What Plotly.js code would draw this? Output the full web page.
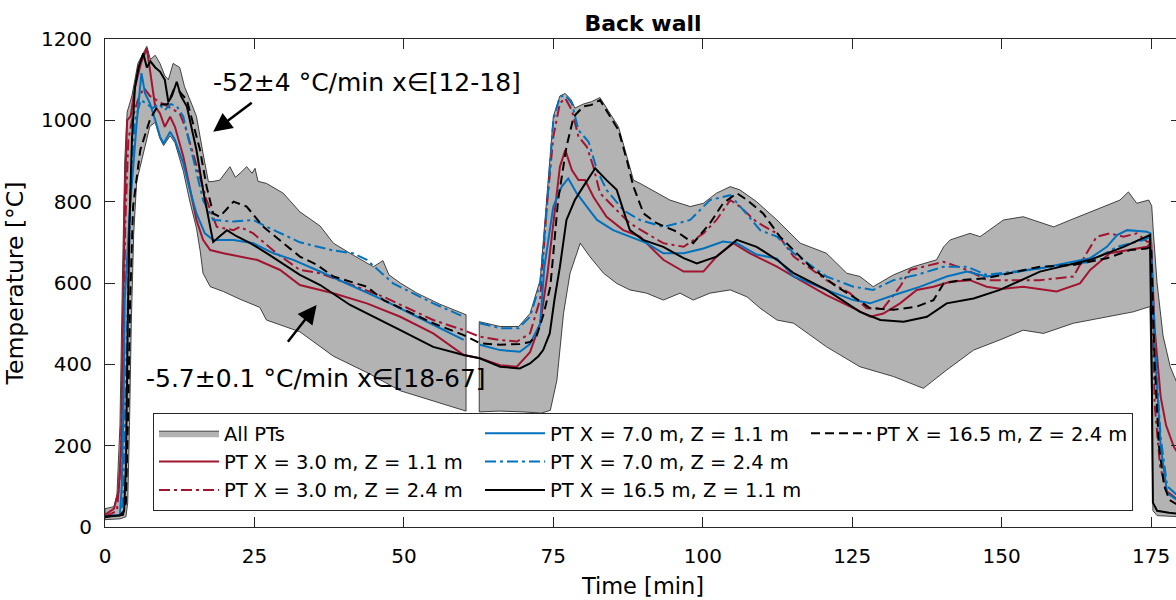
<!DOCTYPE html>
<html>
<head>
<meta charset="utf-8">
<script src="https://cdn.plot.ly/plotly-3.0.1.min.js"></script>
<style>
html,body{margin:0;padding:0;overflow:hidden;background:#fff;}
#chart{width:1185px;height:600px;}
</style>
</head>
<body>
<div id="chart"></div>
<script>
// ---- All PTs envelope (max / min of all plate thermometers) ----
const bandUpperT = [0, 1.5, 2.0, 2.5, 2.9, 3.3, 3.7, 4.5, 5.5, 6.5, 7.0, 7.6, 8.4, 9.2, 10.0, 10.6, 11.4, 12.5, 13.3, 14.5, 15.3, 16.4, 17.3, 18.2, 19.2, 20.9, 21.8, 22.6, 23.7, 24.6, 25.1, 25.6, 27.0, 29.8, 32.6, 36.0, 38.2, 41.0, 44.9, 46.5, 47.5, 49.4, 52.2, 56.0, 60.4, 61.5, 62.6, 66.1, 69.2, 71.1, 72.8, 73.9, 75.0, 76.1, 77.0, 78.0, 78.6, 80.0, 81.4, 82.8, 84.5, 85.9, 87.3, 88.4, 89.5, 92.3, 94.5, 97.9, 100.1, 102.3, 104.6, 106.2, 109.0, 112.4, 116.3, 120.7, 124.1, 126.3, 128.5, 131.9, 135.2, 139.1, 140.3, 141.4, 144.7, 146.4, 150.3, 153.6, 158.7, 161.5, 167.0, 169.8, 171.2, 172.6, 174.6, 175.1, 175.4, 176.0, 177.0, 178.2, 180];
const bandUpperY = [45, 50, 80, 250, 600, 900, 1020, 1060, 1140, 1170, 1182, 1150, 1160, 1140, 1110, 1100, 1140, 1130, 1083, 1040, 1010, 919, 849, 850, 853, 886, 860, 870, 886, 870, 882, 850, 845, 821, 775, 740, 698, 673, 640, 655, 620, 600, 575, 548, 522, null, 505, 493, 493, 525, 607, 800, 1010, 1060, 1066, 1050, 1030, 1040, 1046, 1056, 1017, 984, 911, 853, 845, 821, 804, 788, 796, 821, 837, 829, 800, 755, 698, 673, 624, 616, 591, 620, 640, 657, 689, 706, 722, 714, 755, 763, 738, 755, 788, 804, 824, 796, 804, 790, 720, 600, 470, 394, 330];
const bandLowerT = [0, 2.5, 3.5, 3.8, 4.1, 4.4, 4.8, 5.3, 6.5, 7.5, 8.4, 9.2, 9.8, 10.9, 11.7, 13.1, 14.2, 15.3, 15.9, 16.4, 17.6, 19.8, 22.6, 25.9, 27.0, 32.6, 38.2, 43.8, 49.4, 55.0, 60.4, 61.5, 62.6, 66.0, 70.0, 73.0, 74.5, 75.6, 76.7, 77.8, 79.5, 81.1, 83.4, 85.6, 87.8, 90.6, 93.4, 96.2, 98.4, 101.2, 104.6, 107.4, 109.6, 112.4, 115.2, 120.7, 126.3, 131.9, 136.9, 140.8, 145.3, 149.7, 153.6, 157.0, 162.0, 167.6, 172.0, 174.8, 175.1, 175.3, 176.0, 180];
const bandLowerY = [18, 20, 25, 60, 250, 500, 720, 850, 920, 985, 995, 955, 938, 962, 945, 875, 800, 735, 681, 624, 591, 579, 560, 540, 509, 480, 420, 380, 335, 310, 285, null, 283, 285, 283, 280, 287, 361, 525, 624, 698, 665, 624, 599, 583, 575, 558, 575, 558, 575, 583, 566, 538, 509, 501, 443, 394, 370, 341, 386, 435, 460, 484, 476, 501, 517, 529, 542, 300, 40, 28, 25];

// ---- PT X = 3.0 m, Z = 1.1 m ----
const r1T = [0, 1.5, 2.3, 2.7, 3.0, 3.3, 3.7, 4.3, 5.0, 6.0, 7.0, 7.5, 8.4, 9.2, 10.0, 10.9, 11.7, 13.1, 14.2, 15.3, 16.4, 17.6, 19.8, 22.6, 25.4, 29.3, 32.6, 38.2, 43.8, 49.4, 54.9, 60.0, 62.7, 66.1, 68.9, 71.1, 72.8, 74.0, 75.0, 76.1, 77.0, 78.1, 79.2, 80.3, 81.7, 83.9, 86.7, 89.5, 93.4, 96.8, 100.1, 102.3, 105.1, 107.9, 110.1, 112.4, 115.2, 120.7, 125.2, 128.0, 130.2, 133.0, 135.8, 138.6, 141.4, 144.7, 147.5, 150.0, 153.6, 159.2, 163.1, 164.8, 168.1, 171.5, 174.3, 175.0, 175.6, 176.6, 177.5, 178.8, 180];
const r1Y = [30, 45, 90, 200, 500, 800, 1000, 1010, 1080, 1140, 1177, 1130, 1034, 1017, 984, 1009, 984, 911, 837, 755, 706, 681, 673, 665, 657, 632, 595, 575, 550, 517, 476, 423, 415, 398, 394, 430, 500, 620, 747, 886, 927, 878, 853, 853, 812, 763, 730, 714, 657, 628, 628, 665, 698, 673, 657, 640, 616, 570, 538, 517, 525, 550, 583, 591, 603, 607, 591, 585, 591, 579, 599, 632, 673, 681, 689, 700, 484, 320, 250, 197, 170];

// ---- PT X = 3.0 m, Z = 2.4 m ----
const r2T = [0, 2.0, 2.6, 3.0, 3.4, 3.9, 4.5, 5.5, 6.5, 7.5, 8.6, 9.8, 10.9, 12.5, 13.5, 15.3, 17.0, 18.7, 21.5, 22.6, 24.8, 28.7, 32.6, 36.0, 38.2, 46.6, 54.9, 60.0, 62.7, 66.1, 68.9, 71.1, 72.8, 73.9, 75.0, 76.1, 77.0, 78.1, 79.2, 80.6, 81.7, 82.8, 85.0, 87.8, 90.6, 93.4, 96.8, 100.1, 102.3, 104.6, 106.2, 109.0, 112.4, 115.2, 120.7, 124.6, 127.4, 130.2, 133.0, 134.7, 136.9, 140.3, 144.2, 147.5, 156.4, 162.0, 164.2, 165.9, 168.1, 170.4, 172.6, 174.3, 175.0, 175.6, 176.5, 177.5, 180];
const r2Y = [25, 40, 150, 400, 750, 950, 1000, 1050, 1080, 1060, 1050, 1040, 1030, 1017, 980, 886, 804, 738, 730, 738, 722, 673, 632, 624, 612, 566, 509, 484, 468, 460, 456, 476, 560, 788, 960, 1042, 1054, 1025, 960, 935, 886, 821, 788, 747, 722, 698, 689, 722, 755, 804, 788, 750, 722, 665, 607, 575, 538, 538, 591, 632, 640, 652, 632, 607, 607, 616, 673, 714, 722, 714, 722, 702, 700, 300, 150, 90, 60];

// ---- PT X = 7.0 m, Z = 1.1 m ----
const b1T = [0, 2.5, 2.8, 3.1, 3.3, 3.8, 4.2, 5.3, 6.1, 6.7, 7.5, 8.4, 9.2, 9.8, 10.9, 11.7, 13.1, 14.2, 15.3, 16.7, 18.1, 21.5, 24.8, 28.2, 31.5, 35.4, 41.0, 46.6, 52.2, 60.0, 61.5, 62.7, 66.1, 69.4, 71.1, 72.8, 73.5, 75.0, 76.4, 77.5, 78.9, 80.6, 82.3, 85.0, 87.8, 90.6, 93.4, 96.8, 100.1, 103.4, 105.7, 109.0, 112.4, 115.2, 120.7, 125.2, 128.0, 131.9, 136.4, 140.8, 144.2, 147.5, 156.4, 164.8, 167.6, 169.3, 171.0, 174.3, 174.9, 175.6, 176.6, 177.7, 180];
const b1Y = [25, 30, 100, 300, 558, 700, 788, 993, 1116, 1066, 1042, 1001, 960, 943, 972, 952, 894, 829, 771, 722, 706, 706, 698, 673, 657, 632, 595, 558, 517, 460, null, 448, 435, 431, 450, 500, 640, 788, 837, 857, 821, 788, 755, 730, 714, 698, 673, 673, 685, 702, 698, 670, 660, 616, 583, 558, 550, 570, 591, 616, 628, 616, 636, 661, 689, 718, 730, 726, 722, 443, 197, 83, 60];

// ---- PT X = 7.0 m, Z = 2.4 m ----
const b2T = [0, 2.5, 3.0, 3.4, 3.8, 4.3, 5.0, 6.0, 7.0, 8.0, 9.0, 10.0, 11.0, 12.0, 13.1, 14.8, 16.4, 18.1, 21.5, 24.8, 27.1, 32.6, 38.2, 41.5, 43.8, 48.2, 54.9, 60.0, 61.5, 62.7, 66.1, 69.2, 71.1, 72.8, 73.9, 75.0, 76.1, 77.0, 78.1, 79.2, 80.9, 82.3, 83.9, 86.7, 89.5, 93.4, 97.9, 101.2, 104.6, 106.8, 109.6, 112.4, 115.2, 120.7, 125.2, 128.5, 131.9, 135.8, 140.3, 144.2, 147.5, 156.4, 164.8, 169.3, 173.9, 174.9, 175.6, 176.6, 177.7, 180];
const b2Y = [25, 30, 60, 300, 600, 850, 1000, 1050, 1040, 1030, 1040, 1025, 1040, 1035, 1009, 902, 804, 755, 751, 755, 738, 700, 680, 673, 657, 599, 550, 517, null, 501, 489, 489, 517, 600, 780, 1001, 1058, 1062, 1042, 976, 947, 878, 829, 779, 755, 738, 755, 804, 816, 779, 730, 714, 673, 616, 591, 583, 607, 620, 640, 640, 620, 636, 652, 689, 706, 715, 450, 220, 100, 70];

// ---- PT X = 16.5 m, Z = 1.1 m ----
const k1T = [0, 2.5, 3.2, 3.5, 3.8, 4.1, 4.5, 5.0, 5.6, 6.4, 7.0, 7.6, 8.4, 9.2, 10.0, 10.6, 11.2, 12.0, 12.7, 13.7, 15.3, 16.4, 17.6, 18.1, 19.2, 20.4, 22.0, 24.3, 27.1, 30.4, 32.6, 36.0, 41.0, 49.4, 54.9, 60.0, 62.7, 66.1, 69.4, 71.1, 72.5, 73.3, 74.4, 75.2, 76.1, 77.2, 78.6, 80.0, 82.0, 83.9, 85.6, 87.8, 90.0, 93.4, 96.8, 99.0, 102.3, 105.7, 109.0, 112.4, 115.2, 120.7, 126.3, 129.7, 133.6, 137.5, 140.8, 145.3, 149.7, 156.4, 164.8, 170.4, 174.8, 175.1, 175.3, 176.0, 178.0, 180];
const k1Y = [25, 28, 40, 150, 500, 750, 950, 1080, 1130, 1165, 1130, 1145, 1130, 1120, 1100, 1045, 1060, 1095, 1060, 1034, 927, 829, 738, 701, 715, 730, 715, 698, 673, 640, 620, 595, 546, 484, 443, 423, 415, 394, 390, 402, 420, 435, 476, 560, 640, 755, 804, 837, 882, 853, 829, 730, 706, 689, 661, 648, 665, 706, 689, 657, 624, 583, 529, 509, 505, 517, 550, 562, 583, 628, 657, 689, 718, 400, 60, 40, 35, 32];

// ---- PT X = 16.5 m, Z = 2.4 m ----
const k2T = [0, 3.0, 3.5, 3.9, 4.2, 4.7, 5.9, 7.5, 8.4, 9.2, 10.5, 11.5, 12.5, 13.7, 15.9, 17.0, 18.1, 19.2, 21.5, 23.7, 26.5, 29.8, 32.6, 35.4, 38.2, 43.8, 46.6, 54.9, 60.0, 62.7, 66.1, 69.4, 71.1, 72.2, 73.3, 74.5, 75.8, 77.2, 78.4, 80.0, 81.4, 82.8, 84.5, 85.9, 87.3, 88.4, 90.1, 92.3, 95.7, 98.4, 101.2, 103.4, 105.7, 107.4, 110.1, 112.9, 118.0, 122.4, 125.2, 128.0, 131.9, 135.8, 138.6, 140.3, 143.1, 147.5, 156.4, 162.0, 167.6, 171.5, 174.3, 175.0, 175.6, 176.3, 177.2, 178.1, 180];
const k2Y = [25, 30, 60, 300, 558, 788, 927, 1001, 1025, 1038, 1040, 1075, 1070, 1050, 927, 837, 771, 763, 800, 788, 738, 698, 665, 645, 616, 591, 558, 501, 472, 452, 448, 450, 455, 470, 520, 591, 804, 935, 1009, 1034, 1038, 1050, 1009, 976, 902, 837, 771, 747, 726, 698, 747, 796, 821, 804, 771, 714, 640, 591, 566, 538, 534, 542, 558, 599, 607, 612, 640, 644, 661, 681, 685, 690, 400, 200, 100, 66, 50];

// ---- labels ----
const seriesNames = ['PT X = 3.0 m, Z = 1.1 m', 'PT X = 3.0 m, Z = 2.4 m', 'PT X = 7.0 m, Z = 1.1 m', 'PT X = 7.0 m, Z = 2.4 m', 'PT X = 16.5 m, Z = 1.1 m', 'PT X = 16.5 m, Z = 2.4 m'];
const xTicks = [0, 25, 50, 75, 100, 125, 150, 175];
const yTicks = [0, 200, 400, 600, 800, 1000, 1200];
const rateLabels = ['-52±4 °C/min x∈[12-18]', '-5.7±0.1 °C/min x∈[18-67]'];

// build closed envelope polygon(s) from upper / lower arrays (split at gaps)
function segments(t, y) {
  const out = [[]];
  t.forEach((v, i) => {
    if (y[i] === null) out.push([]);
    else out[out.length - 1].push([v, y[i]]);
  });
  return out;
}
const us = segments(bandUpperT, bandUpperY), ls = segments(bandLowerT, bandLowerY);
const bandX = [], bandY = [];
us.forEach((u, k) => {
  const pts = u.concat(ls[k].slice().reverse());
  pts.push(u[0]);
  pts.forEach(p => { bandX.push(p[0]); bandY.push(p[1]); });
  bandX.push(null); bandY.push(null);
});

const RED = '#A2142F', BLUE = '#0072BD', BLACK = '#000000';
const DASHDOT = '11px,4px,3px,4px', DASH = '9px,5px';

function line(t, y, name, color, dash, rank) {
  return {x: t, y: y, name: name, type: 'scatter', mode: 'lines',
    line: {color: color, width: 2, dash: dash}, legendrank: rank, hoverinfo: 'skip'};
}

const traces = [
  {x: bandX, y: bandY, name: 'All PTs', type: 'scatter', mode: 'lines', fill: 'toself',
   fillcolor: '#B3B3B3', line: {color: '#1a1a1a', width: 0.8}, legendrank: 1, hoverinfo: 'skip'},
  line(r1T, r1Y, seriesNames[0], RED, 'solid', 4),
  line(r2T, r2Y, seriesNames[1], RED, DASHDOT, 7),
  line(b1T, b1Y, seriesNames[2], BLUE, 'solid', 2),
  line(b2T, b2Y, seriesNames[3], BLUE, DASHDOT, 5),
  line(k1T, k1Y, seriesNames[4], BLACK, 'solid', 8),
  line(k2T, k2Y, seriesNames[5], BLACK, DASH, 3),
  // empty legend slot (keeps the 3-column layout of the original legend)
  {x: [-100], y: [-100], name: ' ', type: 'scatter', mode: 'lines',
   line: {color: 'rgba(0,0,0,0)', width: 0}, legendrank: 6, hoverinfo: 'skip'}
];

const axisCommon = {
  showline: true, linecolor: '#262626', linewidth: 1, mirror: 'ticks',
  ticks: 'inside', ticklen: 10, tickwidth: 1, tickcolor: '#262626',
  showgrid: false, zeroline: false, tickfont: {size: 20, color: '#000'}
};

const layout = {
  width: 1185, height: 600,
  margin: {l: 105, r: 4, t: 39, b: 73, pad: 0},
  paper_bgcolor: '#ffffff', plot_bgcolor: '#ffffff',
  font: {family: 'DejaVu Sans, Verdana, sans-serif', size: 20, color: '#000'},
  showlegend: true,
  title: {text: '<b>Back wall</b>', font: {size: 22, color: '#000'},
          xref: 'paper', x: 0.5, xanchor: 'center', yref: 'container', y: 0.962, yanchor: 'middle'},
  xaxis: Object.assign({}, axisCommon, {
    range: [0, 180], tickvals: xTicks, ticktext: xTicks.map(String), ticklabelstandoff: 11,
    title: {text: 'Time [min]', font: {size: 22.5}, standoff: 11}
  }),
  yaxis: Object.assign({}, axisCommon, {
    range: [0, 1200], tickvals: yTicks, ticktext: yTicks.map(String), ticklabelstandoff: 8,
    title: {text: 'Temperature [°C]', font: {size: 23.5}, standoff: 10}
  }),
  legend: {
    orientation: 'h', x: 0.0446, xanchor: 'left', y: 0.2336, yanchor: 'top',
    bgcolor: '#ffffff', bordercolor: '#262626', borderwidth: 1,
    font: {size: 19.5, color: '#000'}, itemwidth: 60, entrywidth: 251, traceorder: 'normal'
  },
  annotations: [
    {text: rateLabels[0], x: 17.8, y: 1094, xref: 'x', yref: 'y', xanchor: 'left', yanchor: 'middle',
     showarrow: false, font: {size: 25, color: '#000'}},
    {text: rateLabels[1], x: 6.6, y: 364, xref: 'x', yref: 'y', xanchor: 'left', yanchor: 'middle',
     showarrow: false, font: {size: 25, color: '#000'}},
    {text: '', x: 18.1, y: 972, xref: 'x', yref: 'y', ax: 24.8, ay: 1046, axref: 'x', ayref: 'y',
     showarrow: true, arrowhead: 2, arrowsize: 1.5, arrowwidth: 2.5, arrowcolor: '#000'},
    {text: '', x: 35.4, y: 546, xref: 'x', yref: 'y', ax: 30.4, ay: 452, axref: 'x', ayref: 'y',
     showarrow: true, arrowhead: 2, arrowsize: 1.5, arrowwidth: 2.5, arrowcolor: '#000'}
  ]
};

Plotly.newPlot('chart', traces, layout, {staticPlot: true, displayModeBar: false});
</script>
</body>
</html>
